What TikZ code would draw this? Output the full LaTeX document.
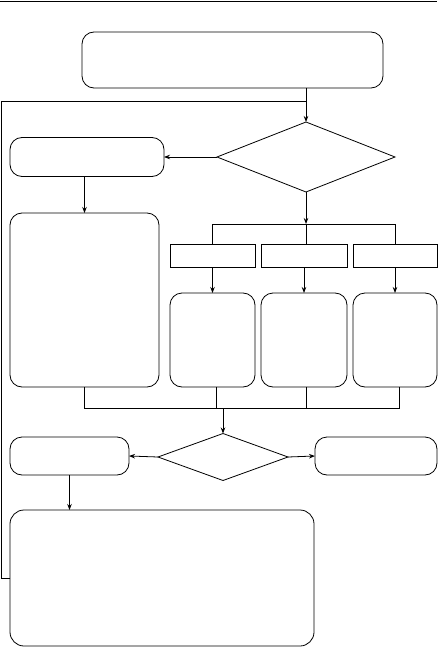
\documentclass[tikz,border=0pt]{standalone}
\usetikzlibrary{shapes.geometric,arrows.meta}
\begin{document}
\begin{tikzpicture}[x=1pt,y=-1pt,
  every node/.style={inner sep=0pt, outer sep=0pt, line width=0.8pt},
  rbox/.style={draw, rectangle, rounded corners=12pt},
  sbox/.style={draw, rectangle},
  dbox/.style={draw, diamond},
  arr/.style={line width=0.8pt, -{Stealth[length=6pt,width=4.5pt]}},
  ln/.style={line width=0.8pt}]
\useasboundingbox (0,0) rectangle (439,647);
\draw[ln] (0,1) -- (437,1);
\node[rbox, minimum width=301pt, minimum height=56pt] (top) at (232.5,60) {};
\node[dbox, minimum width=178pt, minimum height=70pt] (d1) at (306,157) {};
\node[rbox, minimum width=154pt, minimum height=39pt] (box2) at (87,157) {};
\node[rbox, minimum width=149pt, minimum height=174pt] (box3) at (84.5,300) {};
\node[sbox, minimum width=85pt, minimum height=23pt] (s1) at (212.5,255.5) {};
\node[sbox, minimum width=86pt, minimum height=23pt] (s2) at (304,255.5) {};
\node[sbox, minimum width=84pt, minimum height=23pt] (s3) at (395,255.5) {};
\node[rbox, minimum width=85pt, minimum height=94pt] (r1) at (212.5,340) {};
\node[rbox, minimum width=86pt, minimum height=94pt] (r2) at (304,340) {};
\node[rbox, minimum width=84pt, minimum height=94pt] (r3) at (395,340) {};
\node[dbox, minimum width=130pt, minimum height=47pt] (d2) at (223,457) {};
\node[rbox, minimum width=119pt, minimum height=38pt] (box7) at (69.5,456) {};
\node[rbox, minimum width=122pt, minimum height=38pt] (box8) at (376,456) {};
\node[rbox, minimum width=304pt, minimum height=136pt, rounded corners=14pt] (big) at (162,578) {};
\coordinate (br) at (306,224);
\coordinate (cl) at (223,408);
% top to decision
\draw[arr] (top.south -| d1.north) -- (d1.north);
% loop back
\draw[ln] (big.west) -| (1,101) -- (d1.north |- 0,101);
% decision 1
\draw[arr] (d1.west) -- (box2.east);
\draw[arr] (box3.north |- box2.south) -- (box3.north);
\draw[arr] (d1.south) -- (br);
\draw[ln] (s1.north) -- (s1.north |- br) -- (s3.north |- br) -- (s3.north);
\draw[ln] (s2.north -| br) -- (br);
\draw[arr] (s1.south) -- (r1.north);
\draw[arr] (s2.south) -- (r2.north);
\draw[arr] (s3.south) -- (r3.north);
% collect
\draw[ln] (box3.south) -- (box3.south |- cl) -- ([xshift=4pt]r3.south |- cl) -- ([xshift=4pt]r3.south);
\draw[ln] ([xshift=3.5pt]r1.south) -- ([xshift=3.5pt]r1.south |- cl);
\draw[ln] ([xshift=2pt]r2.south) -- ([xshift=2pt]r2.south |- cl);
\draw[arr] (cl) -- (d2.north);
% decision 2
\draw[arr] (d2.west) -- (box7.east);
\draw[arr] (d2.east) -- (box8.west);
\draw[arr] (box7.south) -- (box7.south |- big.north);
\end{tikzpicture}
\end{document}
